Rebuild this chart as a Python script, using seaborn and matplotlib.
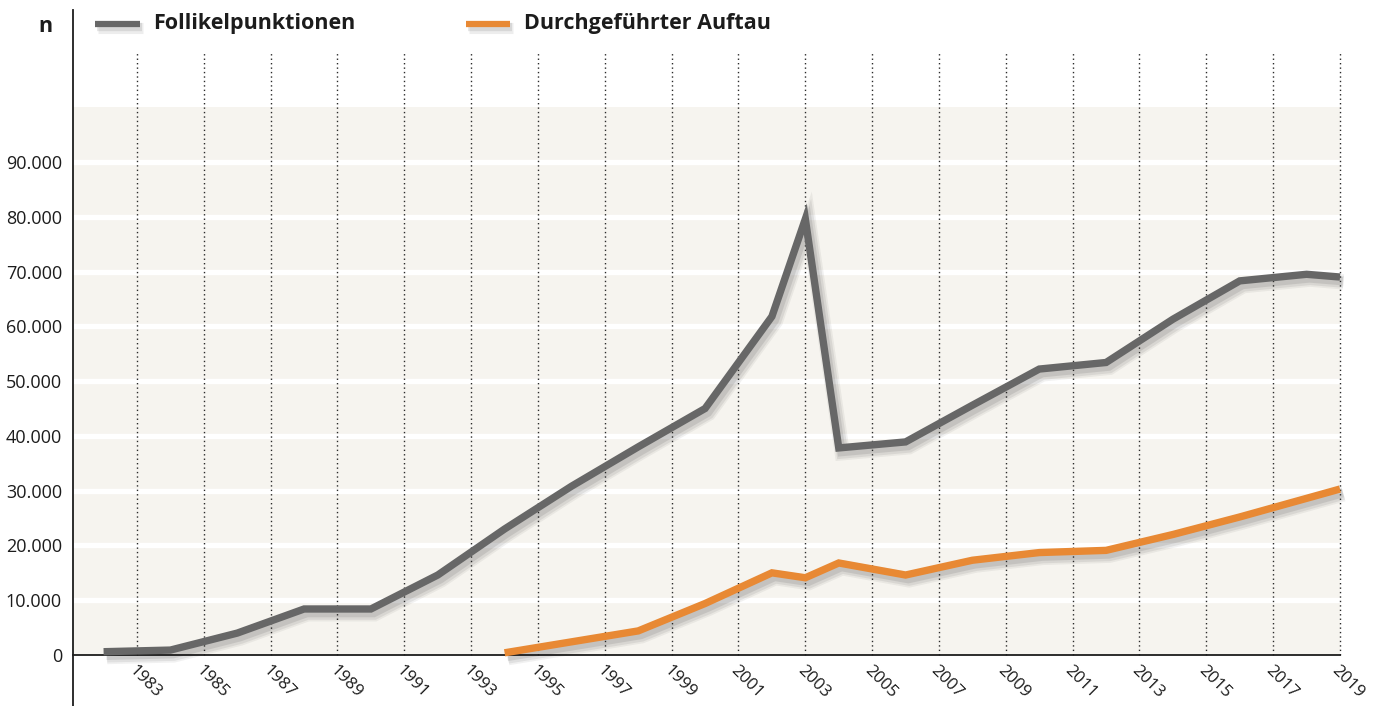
import matplotlib
matplotlib.use("Agg")
import matplotlib.pyplot as plt
import matplotlib.patheffects as pe
from matplotlib.lines import Line2D
import seaborn as sns
import pandas as pd
import numpy as np

# ---------------- data ----------------
series_names = ["Follikelpunktionen", "Durchgeführter Auftau"]

years_punktion = [1982, 1984, 1986, 1988, 1990, 1992, 1994, 1996, 1998, 2000,
                  2002, 2003, 2004, 2006, 2008, 2010, 2012, 2014, 2016, 2018, 2019]
values_punktion = [600, 900, 4000, 8400, 8400, 14600, 23000, 30800, 38000, 45000,
                   61800, 79600, 37800, 38900, 45600, 52200, 53400, 61300, 68300, 69500, 69000]

years_auftau = [1994, 1996, 1998, 2000, 2002, 2003, 2004, 2006, 2008, 2010,
                2012, 2014, 2016, 2018, 2019]
values_auftau = [400, 2400, 4400, 9400, 15000, 14100, 16800, 14600, 17300, 18700,
                 19100, 22000, 25200, 28600, 30300]

x_tick_years = list(range(1983, 2020, 2))
y_ticks = [0, 10000, 20000, 30000, 40000, 50000, 60000, 70000, 80000, 90000]
y_tick_labels = ["0", "10.000", "20.000", "30.000", "40.000", "50.000",
                 "60.000", "70.000", "80.000", "90.000"]
band_top = 100000
axis_label = "n"

colors = {"Follikelpunktionen": "#676767", "Durchgeführter Auftau": "#e88934"}

df = pd.concat([
    pd.DataFrame({"Jahr": years_punktion, "Anzahl": values_punktion, "Serie": series_names[0]}),
    pd.DataFrame({"Jahr": years_auftau, "Anzahl": values_auftau, "Serie": series_names[1]}),
])

# ---------------- style ----------------
sns.set_theme(style="white")
plt.rcParams["font.family"] = ["Open Sans", "DejaVu Sans"]
text_color = "#1c1c1c"

W, H, DPI = 1375, 706, 100
fig = plt.figure(figsize=(W / DPI, H / DPI), dpi=DPI)

# layout (pixels)
x_left_px, x83_px, x19_px = 73, 137, 1340
y0_px, y90_px = 655, 162
ppy = (x19_px - x83_px) / (2019 - 1983)
ppv = (y0_px - y90_px) / 90000.0
xmin = 1983 - (x83_px - x_left_px) / ppy
xmax = 2019 + (W - x19_px) / ppy
ymin = -(H - y0_px) / ppv
ymax = y0_px / ppv

ax = fig.add_axes([x_left_px / W, 0, 1 - x_left_px / W, 1])
ax.set_xlim(xmin, xmax)
ax.set_ylim(ymin, ymax)
ax.set_facecolor("none")

x_end = x_tick_years[-1]
frac_end = (x_end - xmin) / (xmax - xmin)

# background band
ax.axhspan(0, band_top, xmin=0, xmax=frac_end, color="#f6f4ef", lw=0, zorder=0)
# white horizontal gridlines
ax.hlines(y_ticks[1:], xmin, x_end, colors="white", lw=3.8, zorder=1)
# dotted vertical gridlines
ax.vlines(x_tick_years, 0, (y0_px - 52) / ppv, colors="#2a2a2a", lw=1.0,
          linestyles=(0, (1, 2.2)), zorder=2)

# lines with soft shadow
shadow = [
    pe.SimpleLineShadow(offset=(2.5, -3.5), shadow_color="k", alpha=0.06, linewidth=11),
    pe.SimpleLineShadow(offset=(2.5, -3.5), shadow_color="k", alpha=0.08, linewidth=8.5),
    pe.SimpleLineShadow(offset=(2.0, -3.0), shadow_color="k", alpha=0.10, linewidth=6),
    pe.Normal(),
]
sns.lineplot(data=df, x="Jahr", y="Anzahl", hue="Serie", palette=colors,
             hue_order=series_names, linewidth=5.3, legend=False, ax=ax,
             estimator=None, sort=True, zorder=4)
for line in ax.get_lines():
    line.set_path_effects(shadow)
    line.set_solid_capstyle("butt")
    line.set_solid_joinstyle("miter")

# spines
for s in ["top", "right"]:
    ax.spines[s].set_visible(False)
ax.spines["bottom"].set_position(("data", 0))
ax.spines["bottom"].set_bounds(xmin, x_end)
ax.spines["bottom"].set_color("#1c1c1c")
ax.spines["bottom"].set_linewidth(1.3)
ax.spines["bottom"].set_zorder(3)
ax.spines["left"].set_bounds(ymin, (y0_px - 10) / ppv)
ax.spines["left"].set_color("#1c1c1c")
ax.spines["left"].set_linewidth(1.3)

# ticks
ax.set_yticks(y_ticks)
ax.set_yticklabels(y_tick_labels)
ax.set_xticks(x_tick_years)
ax.set_xticklabels([str(y) for y in x_tick_years], rotation=-45,
                   rotation_mode="anchor", ha="left", va="top")
ax.tick_params(axis="y", length=0, pad=8, labelsize=13, labelcolor=text_color)
ax.tick_params(axis="x", length=0, pad=5.5, labelsize=12.2, labelcolor=text_color)
ax.set_xlabel("")
ax.set_ylabel("")
ax.grid(False)

# "n" label
fig.text(45 / W, 1 - 26 / H, axis_label, ha="center", va="center",
         fontsize=15.5, fontweight="bold", color=text_color)

# legend (manual)
leg_y = 1 - 24 / H
legend_pos = [(95, 140, 153), (466, 510, 524)]
leg_shadow = [
    pe.SimpleLineShadow(offset=(2, -3), shadow_color="k", alpha=0.08, linewidth=8),
    pe.SimpleLineShadow(offset=(1.5, -2.5), shadow_color="k", alpha=0.10, linewidth=6),
    pe.Normal(),
]
for name, (x0, x1, xt) in zip(series_names, legend_pos):
    ln = Line2D([x0 / W, x1 / W], [leg_y, leg_y], transform=fig.transFigure,
                color=colors[name], lw=4.5, solid_capstyle="butt",
                path_effects=leg_shadow)
    fig.add_artist(ln)
    fig.text(xt / W, leg_y, name, ha="left", va="center", fontsize=15.5,
             fontweight="bold", color=text_color)

fig.savefig("out.png", dpi=DPI)
